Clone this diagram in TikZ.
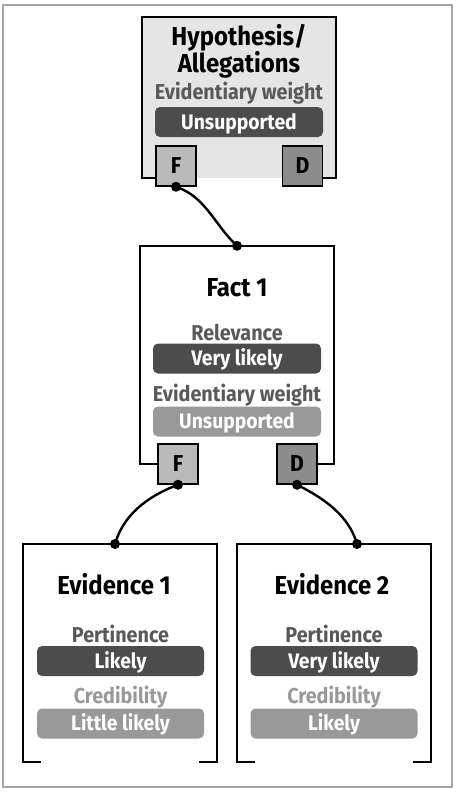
\documentclass[tikz,border=0pt]{standalone}
\usepackage{fontspec}
\setmainfont{Fira Sans}[FakeStretch=0.92]
\usetikzlibrary{positioning,calc}

\begin{document}
\begin{tikzpicture}[
    x=1pt, y=-1pt,
    card/.style={minimum width=194pt, inner sep=0pt},
    port/.style={draw, line width=1.5pt, minimum size=40pt, inner sep=0pt, font=\bfseries\fontsize{23}{23}\selectfont},
    pill/.style={rounded corners=5pt, minimum width=168pt, minimum height=30pt, inner sep=0pt,
                 text height=14pt, text depth=0pt, text=white, font=\bfseries\fontsize{21}{21}\selectfont},
    title/.style={anchor=base, align=center, font=\bfseries\fontsize{26}{25}\selectfont},
    lbl/.style={anchor=base, font=\bfseries\fontsize{21.5}{22}\selectfont},
    dot/.style={circle, fill, inner sep=0pt, minimum size=10pt},
    wire/.style={line width=2.4pt},
  ]
  \useasboundingbox (0,0) rectangle (456,792);
  \draw[black!35, line width=2pt] (3,5) rectangle (452,787);

  % hypothesis
  \node[card, fill=black!10, minimum height=161pt] (hyp) at (239,97.5) {};
  \node[port, fill=black!27] (hypF) at (176,166) {F};
  \node[port, fill=black!45] (hypD) at (302.5,166) {D};
  \draw[line width=1.8pt] (hypF.west |- hyp.south) -- (hyp.south west) -- (hyp.north west)
    -- (hyp.north east) -- (hyp.south east) -- (hypD.east |- hyp.south);
  \node[title] (hypT) at (239,73) {Hypothesis/\\Allegations};
  \node[lbl, text=black!65] (hypL) at (239,99) {Evidentiary weight};
  \node[pill, fill=black!70] (hypP) at (239,122) {Unsupported};

  % fact
  \node[card, minimum height=218pt] (fact) at (237,355) {};
  \node[port, fill=black!27] (factF) at (178,464) {F};
  \node[port, fill=black!45] (factD) at (297,464) {D};
  \draw[line width=1.8pt] (factF.west |- fact.south) -- (fact.south west) -- (fact.north west)
    -- (fact.north east) -- (fact.south east) -- (factD.east |- fact.south);
  \node[title] (factT) at (237,296) {Fact 1};
  \node[lbl, text=black!65] (factL1) at (237,340) {Relevance};
  \node[pill, fill=black!70] (factP1) at (237,358.5) {Very likely};
  \node[lbl, text=black!65] (factL2) at (237,401) {Evidentiary weight};
  \node[pill, fill=black!40] (factP2) at (237,421.5) {Unsupported};

  % evidence
  \node[card, minimum height=218pt] (ev1) at (120,653) {};
  \node[card, minimum height=218pt] (ev2) at (334,653) {};
  \foreach \e in {ev1,ev2}
    \draw[line width=1.8pt] ([xshift=18pt]\e.south west) -- (\e.south west) -- (\e.north west)
      -- (\e.north east) -- (\e.south east) -- ([xshift=-18pt]\e.south east);
  \node[title] (ev1T) at (114,594) {Evidence 1};
  \node[lbl, text=black!65] (ev1L1) at (120.5,642) {Pertinence};
  \node[pill, fill=black!70, minimum width=167pt] (ev1P1) at (120.5,661) {Likely};
  \node[lbl, text=black!40] (ev1L2) at (120.5,703) {Credibility};
  \node[pill, fill=black!40, minimum width=167pt] (ev1P2) at (120.5,723.5) {Little likely};
  \node[title] (ev2T) at (332,594) {Evidence 2};
  \node[lbl, text=black!65] (ev2L1) at (334,642) {Pertinence};
  \node[pill, fill=black!70, minimum width=167pt] (ev2P1) at (334,661) {Very likely};
  \node[lbl, text=black!40] (ev2L2) at (334,703) {Credibility};
  \node[pill, fill=black!40, minimum width=167pt] (ev2P2) at (334,723.5) {Likely};

  % links
  \coordinate (factIn) at (fact.north);
  \coordinate (ev1In) at (115,544);
  \coordinate (ev2In) at (357,544);
  \draw[wire] (hypF.south) .. controls +(30,10) and +(-22,-20) .. (factIn);
  \draw[wire] (factF.south) .. controls +(-32,12) and +(8,-28) .. (ev1In);
  \draw[wire] (factD.south) .. controls +(28,14) and +(-8,-28) .. (ev2In);
  \foreach \p in {hypF.south,factIn,factF.south,factD.south,ev1In,ev2In}
    \node[dot] at (\p) {};
\end{tikzpicture}
\end{document}
